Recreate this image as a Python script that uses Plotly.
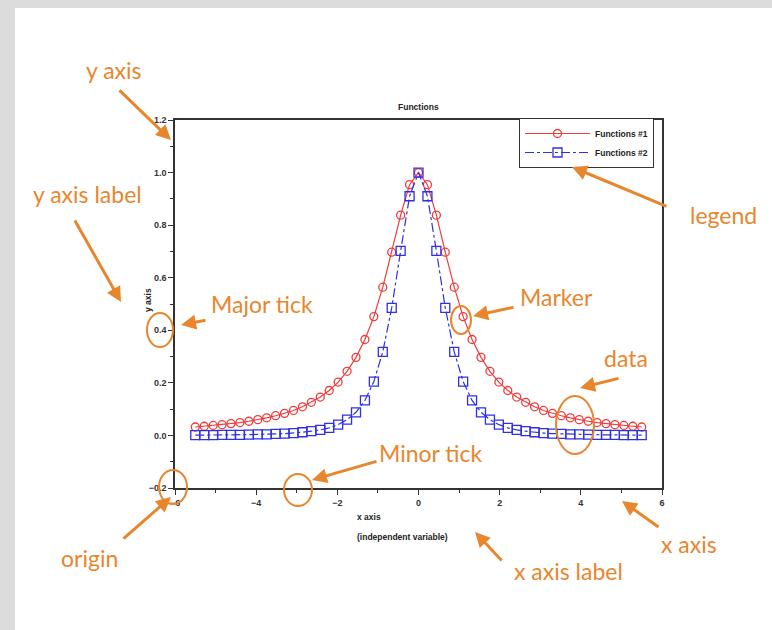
import plotly.graph_objects as go

# ---------------------------------------------------------------------------
# Data
# ---------------------------------------------------------------------------
x_values = [
    -5.50, -5.28, -5.06, -4.84, -4.62, -4.40, -4.18, -3.96, -3.74, -3.52,
    -3.30, -3.08, -2.86, -2.64, -2.42, -2.20, -1.98, -1.76, -1.54, -1.32,
    -1.10, -0.88, -0.66, -0.44, -0.22, 0.00, 0.22, 0.44, 0.66, 0.88,
    1.10, 1.32, 1.54, 1.76, 1.98, 2.20, 2.42, 2.64, 2.86, 3.08,
    3.30, 3.52, 3.74, 3.96, 4.18, 4.40, 4.62, 4.84, 5.06, 5.28, 5.50,
]
functions_1 = [
    0.032, 0.035, 0.038, 0.041, 0.045, 0.049, 0.054, 0.060, 0.067, 0.075,
    0.084, 0.095, 0.109, 0.126, 0.146, 0.171, 0.203, 0.244, 0.297, 0.365,
    0.452, 0.564, 0.697, 0.838, 0.954, 1.000, 0.954, 0.838, 0.697, 0.564,
    0.452, 0.365, 0.297, 0.244, 0.203, 0.171, 0.146, 0.126, 0.109, 0.095,
    0.084, 0.075, 0.067, 0.060, 0.054, 0.049, 0.045, 0.041, 0.038, 0.035, 0.032,
]
functions_2 = [
    0.001, 0.001, 0.001, 0.002, 0.002, 0.002, 0.003, 0.004, 0.004, 0.006,
    0.007, 0.009, 0.012, 0.016, 0.021, 0.029, 0.041, 0.060, 0.088, 0.133,
    0.205, 0.318, 0.485, 0.702, 0.910, 1.000, 0.910, 0.702, 0.485, 0.318,
    0.205, 0.133, 0.088, 0.060, 0.041, 0.029, 0.021, 0.016, 0.012, 0.009,
    0.007, 0.006, 0.004, 0.004, 0.003, 0.002, 0.002, 0.002, 0.001, 0.001, 0.001,
]

RED = "#f03c3c"
BLUE = "#2f2fe8"
ORANGE = "#e8862e"
AXIS = "#333333"

# plot area in page pixels
L, R, T, B = 175, 662, 120, 488
W, H = 772, 630


def px_x(p):
    return (p - L) / (R - L)


def px_y(p):
    return (B - p) / (B - T)


fig = go.Figure()
fig.add_trace(go.Scatter(
    x=x_values, y=functions_1, mode="lines+markers", name="Functions #1",
    line=dict(color=RED, width=1.2),
    marker=dict(symbol="circle-open", size=8, color=RED, line=dict(width=1.3)),
))
fig.add_trace(go.Scatter(
    x=x_values, y=functions_2, mode="lines+markers", name="Functions #2",
    line=dict(color=BLUE, width=1.2, dash="dashdot"),
    marker=dict(symbol="square-open", size=9, color=BLUE, line=dict(width=1.3)),
))

tick_font = dict(family="Liberation Sans, Arial", size=9, color="#333333",
                 weight="bold")

fig.update_xaxes(
    range=[-6, 6], dtick=2, tick0=-6, ticks="outside", ticklen=5,
    tickcolor=AXIS, showline=True, linecolor=AXIS, linewidth=1.5,
    mirror=True, showgrid=False, zeroline=False, tickfont=tick_font,
    minor=dict(dtick=1, ticks="outside", ticklen=3, tickcolor=AXIS),
)
fig.update_yaxes(
    range=[-0.2, 1.2], dtick=0.2, tick0=-0.2, tickformat=".1f",
    ticks="outside", ticklen=5, tickcolor=AXIS, showline=True,
    linecolor=AXIS, linewidth=1.5, mirror=True, showgrid=False,
    zeroline=False, tickfont=tick_font,
    minor=dict(dtick=0.1, ticks="outside", ticklen=3, tickcolor=AXIS),
)

# white page on grey frame, plus orange circles
shapes = [
    dict(type="rect", xref="paper", yref="paper", layer="below",
         x0=px_x(15), x1=px_x(W + 5), y0=px_y(H + 5), y1=px_y(8),
         fillcolor="white", line=dict(width=0)),
]
circles = [(160, 330, 13, 17), (461, 320, 10, 14), (575, 425, 19, 29),
           (298, 490, 14, 16), (173, 487, 14, 17)]
for cx, cy, rx, ry in circles:
    shapes.append(dict(type="circle", xref="paper", yref="paper",
                       x0=px_x(cx - rx), x1=px_x(cx + rx),
                       y0=px_y(cy + ry), y1=px_y(cy - ry),
                       line=dict(color=ORANGE, width=2)))

small = dict(family="Liberation Sans, Arial", size=8.5, color="#222222",
             weight="bold")
annotations = [
    dict(text="Functions", x=px_x(418), y=px_y(107), font=small),
    dict(text="x axis", x=px_x(355), y=px_y(517), xanchor="left", font=small),
    dict(text="(independent variable)", x=px_x(355), y=px_y(537),
         xanchor="left", font=small),
    dict(text="y axis", x=px_x(148), y=px_y(300), textangle=-90, font=small),
]

big = dict(family="Lato, Open Sans", size=23, color=ORANGE)
labels = [
    ("y axis", 114, 70), ("y axis label", 87, 194), ("Major tick", 262, 304),
    ("Marker", 556, 297), ("data", 626, 358), ("legend", 723, 215),
    ("Minor tick", 431, 453), ("origin", 89, 558), ("x axis", 689, 544),
    ("x axis label", 568, 571),
]
for txt, cx, cy in labels:
    annotations.append(dict(text=txt, x=px_x(cx), y=px_y(cy), font=big))

# arrows: (tail x, tail y, head x, head y)
arrows = [(118, 89, 171, 140), (74, 219, 121, 302), (207, 320, 181, 325),
          (515, 307, 473, 316), (620, 378, 580, 388), (668, 207, 572, 167),
          (378, 461, 312, 480), (122, 540, 171, 497), (660, 528, 622, 501),
          (503, 562, 475, 532)]
for tx, ty, hx, hy in arrows:
    annotations.append(dict(
        text="", x=px_x(hx), y=px_y(hy), showarrow=True, arrowhead=2,
        arrowsize=1, arrowwidth=3, arrowcolor=ORANGE,
        ax=tx - hx, ay=ty - hy,
    ))

for a in annotations:
    a.setdefault("xref", "paper")
    a.setdefault("yref", "paper")
    a.setdefault("xanchor", "center")
    a.setdefault("yanchor", "middle")
    a.setdefault("showarrow", False)

fig.update_layout(
    width=W, height=H,
    margin=dict(l=L, r=W - R, t=T, b=H - B),
    paper_bgcolor="#dcdcdc", plot_bgcolor="white",
    showlegend=True,
    legend=dict(x=px_x(654), y=px_y(118), xanchor="right", yanchor="top",
                bgcolor="white", bordercolor=AXIS, borderwidth=1,
                font=small, tracegroupgap=0, itemwidth=65),
    shapes=shapes, annotations=annotations,
)

# the page body has a default margin, drop it so the figure sits at 0,0
fig.write_html("out.html", config={"displayModeBar": False},
               post_script="document.body.style.margin = '0px';")
